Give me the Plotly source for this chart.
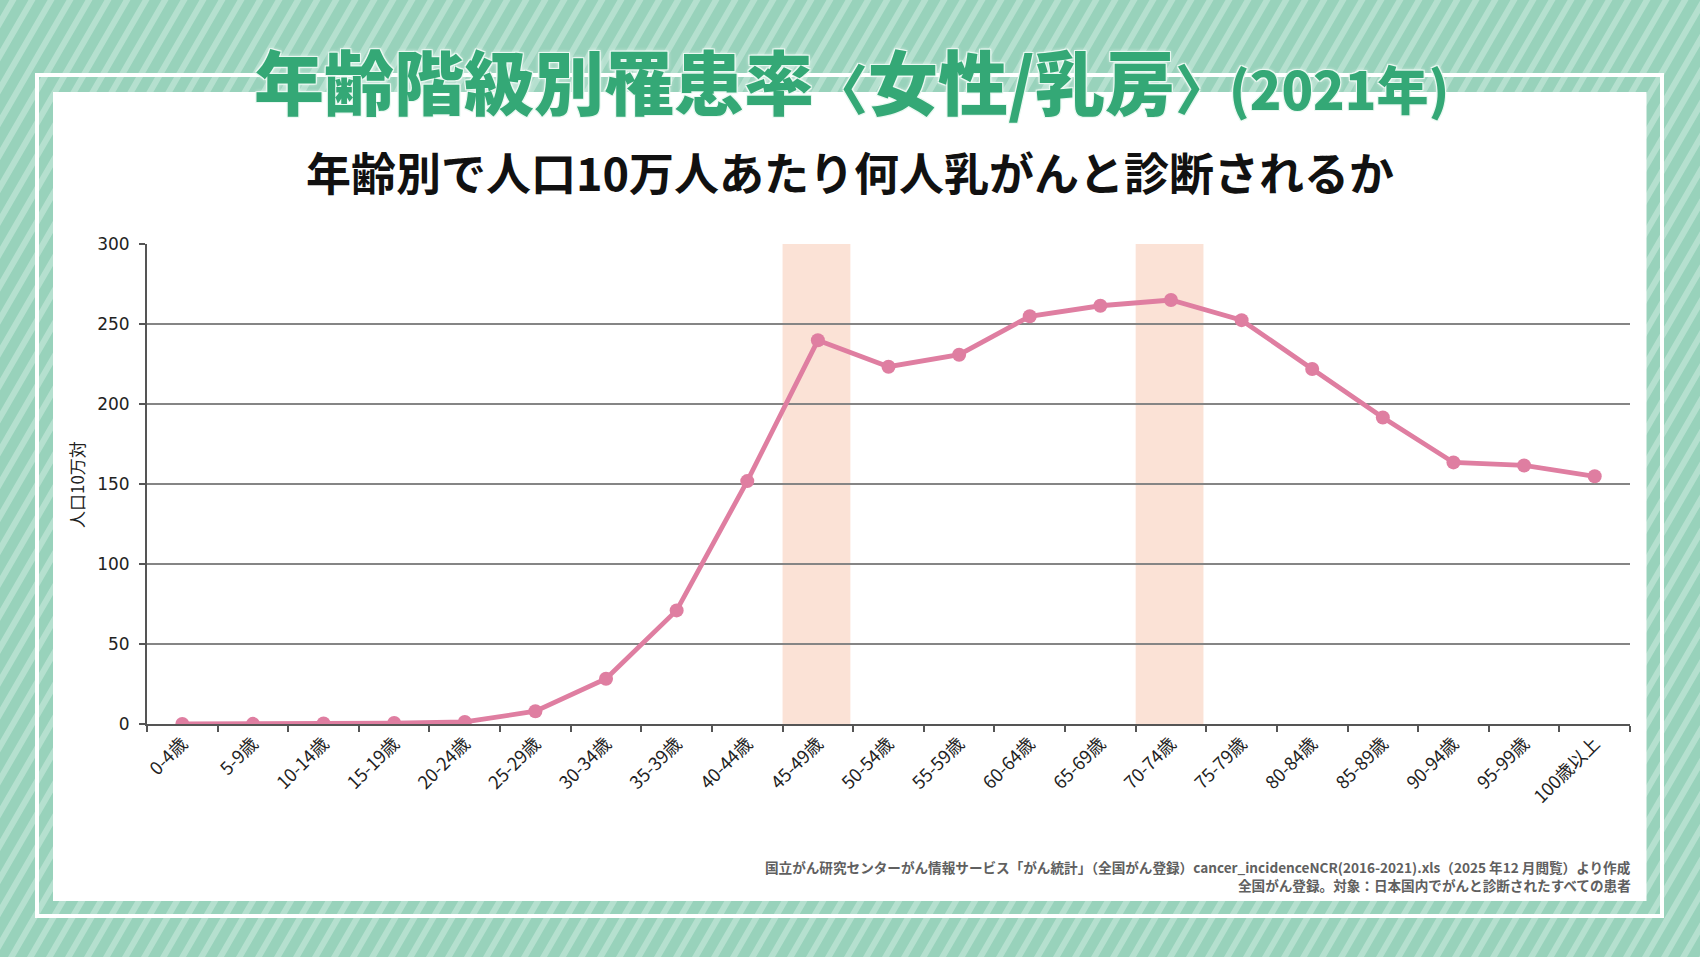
import plotly.graph_objects as go

# ---------------- data ----------------
categories = ["0-4歳", "5-9歳", "10-14歳", "15-19歳", "20-24歳", "25-29歳", "30-34歳",
              "35-39歳", "40-44歳", "45-49歳", "50-54歳", "55-59歳", "60-64歳", "65-69歳",
              "70-74歳", "75-79歳", "80-84歳", "85-89歳", "90-94歳", "95-99歳", "100歳以上"]
incidence = [0.0, 0.1, 0.3, 0.6, 1.3, 8.0, 28.3, 71.0, 151.8, 239.8, 223.3, 230.8,
             254.8, 261.4, 265.0, 252.4, 221.9, 191.6, 163.5, 161.6, 154.8]
highlight = ["45-49歳", "70-74歳"]
y_ticks = [0, 50, 100, 150, 200, 250, 300]

title_main = "年齢階級別罹患率〈女性/乳房〉"
title_year = "(2021年)"
subtitle = "年齢別で人口10万人あたり何人乳がんと診断されるか"
y_label = "人口10万対"
source_1 = "国立がん研究センターがん情報サービス「がん統計」（全国がん登録）cancer_incidenceNCR(2016-2021).xls（2025 年12 月閲覧）より作成"
source_2 = "全国がん登録。対象：日本国内でがんと診断されたすべての患者"

# ---------------- layout geometry ----------------
W, H = 1700, 957
L, R, T, B = 147, 70, 244, 233
PW, PH = W - L - R, H - T - B


def px(x):
    return (x - L) / PW


def py(y):
    return (H - B - y) / PH


BASE = "#98d2bb"
STRIPE = "#b5e0cf"
GREEN = "#34a876"
PINK = "#df7ea1"

# diagonal stripes background
parts = []
period, sw, shift = 19, 7, 552.5
x0 = -600
while x0 < W + 20:
    pts = [(x0, H), (x0 + sw, H), (x0 + sw + shift, 0), (x0 + shift, 0)]
    parts.append("M" + " L".join(f"{px(a):.5f},{py(b):.5f}" for a, b in pts) + " Z")
    x0 += period
stripe_path = " ".join(parts)

shapes = [
    dict(type="path", xref="paper", yref="paper", path=stripe_path,
         fillcolor=STRIPE, line=dict(width=0), layer="below"),
    dict(type="rect", xref="paper", yref="paper", x0=px(37), x1=px(1662), y0=py(916), y1=py(75),
         line=dict(color="white", width=4), fillcolor="rgba(0,0,0,0)", layer="below"),
    dict(type="rect", xref="paper", yref="paper", x0=px(53), x1=px(1646.5), y0=py(901), y1=py(92),
         line=dict(width=0), fillcolor="white", layer="below"),
]
for c in highlight:
    i = categories.index(c)
    shapes.append(dict(type="rect", xref="x", yref="y", x0=i - 0.5, x1=i + 0.46,
                       y0=y_ticks[0], y1=y_ticks[-1], fillcolor="#fbe2d6",
                       line=dict(width=0), layer="below"))

fig = go.Figure()
fig.add_trace(go.Scatter(
    x=categories, y=incidence, mode="lines+markers",
    line=dict(color=PINK, width=4.8),
    marker=dict(color=PINK, size=14),
    hoverinfo="x+y", showlegend=False,
))

shadow = "1px 1px 0 #eaf8f1, -1px -1px 0 #eaf8f1, 1px -1px 0 #eaf8f1, -1px 1px 0 #eaf8f1, 0 0 4px #ffffff"
annotations = [
    dict(xref="paper", yref="paper", x=px(851), y=py(79), xanchor="center", yanchor="middle",
         text=(title_main.replace("〈", "<span style='font-size:54px'>〈</span>")
               .replace("〉", "<span style='font-size:54px'>〉</span>")
               + "<span style='font-size:52px'>" + title_year + "</span>"),
         showarrow=False,
         font=dict(family="Noto Sans CJK JP", size=70, color=GREEN, weight=900, shadow=shadow)),
    dict(xref="paper", yref="paper", x=px(850), y=py(171), xanchor="center", yanchor="middle",
         text=subtitle, showarrow=False,
         font=dict(family="Noto Sans CJK JP", size=45, color="#111111", weight="bold")),
    dict(xref="paper", yref="paper", x=px(76), y=py(485), xanchor="center", yanchor="middle",
         text=y_label, textangle=-90, showarrow=False,
         font=dict(family="Noto Sans CJK JP", size=17, color="#222222")),
    dict(xref="paper", yref="paper", x=px(1633), y=py(867), xanchor="right", yanchor="middle",
         text=source_1, showarrow=False,
         font=dict(family="Noto Sans CJK JP", size=13.6, color="#606060", weight="bold")),
    dict(xref="paper", yref="paper", x=px(1633), y=py(885), xanchor="right", yanchor="middle",
         text=source_2, showarrow=False,
         font=dict(family="Noto Sans CJK JP", size=13.6, color="#606060", weight="bold")),
]

fig.update_layout(
    width=W, height=H,
    margin=dict(l=L, r=R, t=T, b=B, pad=0),
    paper_bgcolor=BASE,
    plot_bgcolor="rgba(0,0,0,0)",
    shapes=shapes,
    annotations=annotations,
    showlegend=False,
    xaxis=dict(
        type="category", categoryorder="array", categoryarray=categories,
        range=[-0.5, len(categories) - 0.5],
        tickson="boundaries", ticks="outside", ticklen=6, tickcolor="#555555", tickwidth=1.5,
        showline=True, linecolor="#555555", linewidth=2,
        showgrid=False, zeroline=False,
        tickangle=-45,
        tickfont=dict(family="Noto Sans CJK JP", size=18, color="#222222"),
        fixedrange=True,
    ),
    yaxis=dict(
        range=[y_ticks[0], y_ticks[-1]], tickvals=y_ticks,
        ticks="outside", ticklen=6, tickcolor="#555555", tickwidth=1.5,
        showline=True, linecolor="#555555", linewidth=2,
        showgrid=True, gridcolor="#858585", gridwidth=1.8,
        zeroline=False, ticklabelstandoff=6,
        tickfont=dict(family="DejaVu Sans", size=17, color="#222222"),
        fixedrange=True,
    ),
)

fig.write_html("out.html")
